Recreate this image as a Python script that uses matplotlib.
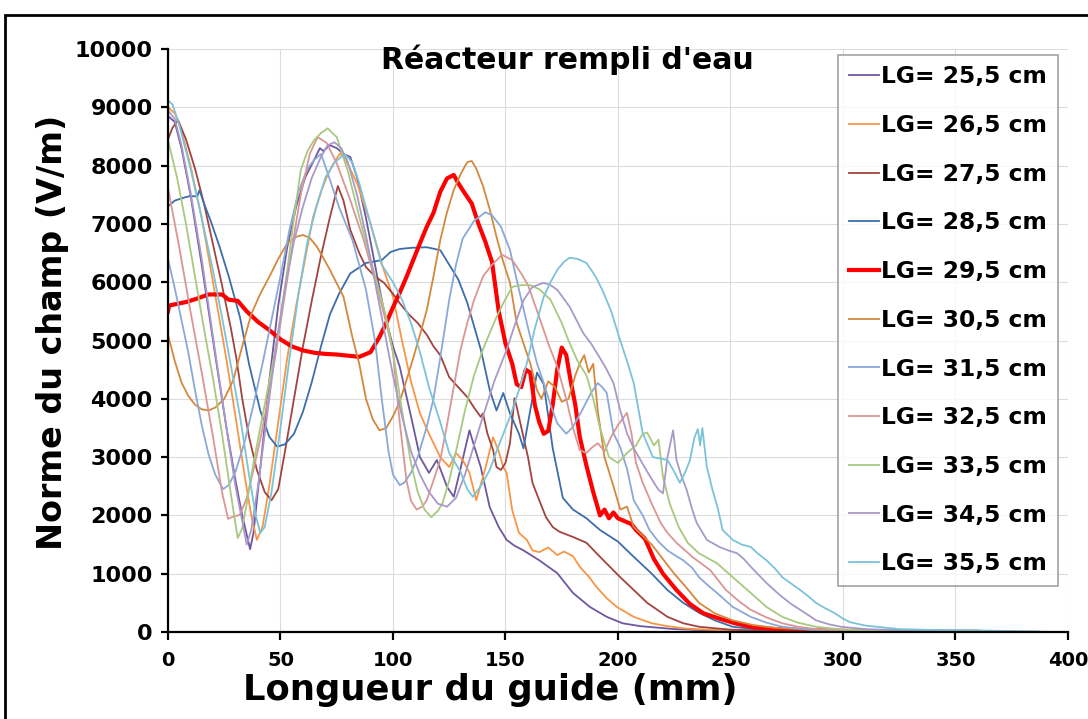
import matplotlib.pyplot as plt
from matplotlib.patches import Rectangle

plt.rcParams['font.family'] = 'DejaVu Sans'
plt.rcParams['font.weight'] = 'bold'

# Longueur du guide (mm) et norme du champ (V/m) pour chaque LG
x_255 = [0, 3, 6, 10, 15, 21, 26, 30, 33, 36.5, 38, 41, 45, 49, 53, 57, 61, 65, 67.5, 69,
         72, 75, 78, 81, 84, 88, 92, 96, 100, 103, 108, 112, 116, 119.5, 122, 124, 127, 130, 134, 136,
         139, 143, 147, 150.5, 154, 158, 165, 173, 180, 187.5, 195, 202, 210, 225, 250, 280, 320, 360]
y_255 = [8850, 8750, 8300, 7500, 6300, 4750, 3500, 2600, 2000, 1420, 1700, 2800, 4300, 5600, 6600, 7300, 7800, 8100, 8300, 8250,
         8350, 8300, 8200, 8150, 7800, 7100, 6300, 5500, 4900, 4550, 3700, 3000, 2730, 2950, 2700, 2490, 2320, 2800, 3460, 3200,
         2830, 2140, 1800, 1580, 1480, 1400, 1230, 1010, 670, 430, 260, 150, 100, 50, 15, 5, 2, 1]

x_265 = [0, 3, 6, 10, 15, 20, 26, 30, 34, 37, 39.5, 42, 45, 49, 53, 57, 60, 64.5, 68, 70.5,
         73, 76.5, 79, 84, 90, 95.5, 100, 104, 108, 112, 116, 121, 125, 128, 131, 134, 137, 141, 144.5, 147,
         149, 150.5, 153, 156, 159.5, 162, 165, 169, 173, 176, 180, 183, 187, 190.5, 195, 199.5, 207, 215, 222, 230,
         250, 280, 320]
y_265 = [9000, 8900, 8600, 8000, 7100, 6000, 4670, 3700, 2700, 2000, 1580, 1800, 2500, 3600, 4700, 5600, 6210, 7120, 7550, 7800,
         8000, 8210, 8100, 7700, 7010, 6260, 5750, 5000, 4300, 3750, 3400, 3000, 2830, 3070, 2950, 2730, 2260, 2800, 3340, 3100,
         2830, 2730, 2090, 1700, 1580, 1400, 1370, 1450, 1320, 1380, 1300, 1120, 950, 770, 580, 430, 260, 150, 100, 60,
         20, 8, 3]

x_275 = [0, 2, 4.5, 8, 12, 16, 20, 24, 28, 30.5, 33, 36, 39.5, 43, 46, 49, 52, 56, 60, 64,
         68, 72, 75.5, 78, 81, 85, 88, 92, 96, 100, 103, 107, 111, 115, 118, 121, 125, 129, 133, 136,
         139, 140, 142, 144.5, 146, 148, 150, 152, 154, 155, 158, 160, 162, 165, 168, 171, 174, 180, 186, 192,
         201, 207, 213, 222, 229, 236, 250, 270, 300]
y_275 = [8450, 8650, 8780, 8450, 7950, 7350, 6650, 5950, 5200, 4670, 4000, 3350, 2780, 2400, 2260, 2450, 3100, 4000, 4900, 5700,
         6450, 7120, 7650, 7400, 6900, 6500, 6260, 6100, 5990, 5800, 5640, 5450, 5300, 5100, 4900, 4750, 4370, 4200, 4030, 3850,
         3690, 3750, 3400, 3120, 2830, 2780, 2900, 3240, 4010, 3860, 3340, 3000, 2560, 2260, 1970, 1800, 1720, 1630, 1530, 1290,
         940, 720, 500, 260, 150, 90, 40, 15, 5]

x_285 = [0, 3, 7, 10, 13, 14, 16, 19, 23, 27, 32, 36, 41, 45, 48.5, 52, 56, 60, 64, 68,
         72, 76, 81, 88, 95, 99, 103, 108, 115, 121, 125, 129, 133, 136, 139, 141, 143, 146, 149, 152,
         156, 158, 161, 164, 167, 171, 175.5, 180, 186, 192, 200, 207, 215, 222, 229, 236, 243, 251, 260, 270,
         285, 300, 330]
y_285 = [7300, 7400, 7450, 7480, 7470, 7580, 7350, 7050, 6600, 6100, 5400, 4600, 3800, 3350, 3180, 3220, 3400, 3780, 4300, 4900,
         5450, 5800, 6150, 6330, 6380, 6520, 6570, 6590, 6600, 6550, 6300, 6050, 5650, 5250, 4850, 4500, 4150, 3800, 4100, 3750,
         3400, 3150, 3800, 4450, 4250, 3150, 2300, 2100, 1950, 1750, 1550, 1290, 1000, 720, 500, 330, 200, 90, 50, 30,
         15, 8, 3]

x_295 = [0, 0.5, 3, 8, 13, 18, 24, 27, 31, 35, 40, 45, 50, 55, 60, 65, 70, 75, 80, 85,
         90, 94, 97, 100, 103, 106, 109, 112, 115, 118, 121, 124, 127, 129, 132, 135, 138, 141, 144, 147,
         150, 153, 155, 157, 159, 161, 163, 165, 167, 169, 171, 173, 175, 177, 179, 181, 183,
         186, 189, 192, 194, 196, 198, 200, 203, 206, 208, 212, 216, 220, 226, 232, 238, 245, 252, 260, 270,
         285, 300, 320, 340, 360]
y_295 = [5500, 5600, 5620, 5660, 5720, 5790, 5790, 5700, 5680, 5500, 5320, 5180, 5020, 4900, 4830, 4790, 4770, 4760, 4740, 4720,
         4800, 5060, 5300, 5570, 5820, 6090, 6380, 6670, 6950, 7190, 7550, 7780, 7840, 7700, 7520, 7350, 7000, 6700, 6350, 5500,
         4950, 4600, 4250, 4200, 4500, 4450, 3900, 3600, 3400, 3450, 3900, 4500, 4880, 4750, 4300, 3900, 3350,
         2850, 2400, 2000, 2100, 1950, 2050, 1950, 1900, 1850, 1750, 1600, 1250, 1000, 720, 480, 320, 230, 150, 80, 50,
         30, 20, 10, 5, 3]

x_305 = [0, 3, 6, 9, 12, 15, 18, 21, 25, 29, 33, 37, 41, 45, 49, 53, 57, 60, 63, 66,
         69, 72, 75, 78, 82, 85, 88, 91, 94, 97, 100, 103, 106, 109, 112, 115, 118, 121, 124, 127,
         130, 133, 135, 137, 140, 143, 146, 149, 152, 155, 158, 161, 164, 166, 169, 172, 175, 178, 181, 183,
         185, 187, 189, 191, 194, 198, 201, 204, 207, 211, 215, 220, 225, 230, 236, 243, 251, 260, 270, 285,
         300, 330]
y_305 = [5100, 4650, 4280, 4050, 3900, 3820, 3800, 3850, 4000, 4320, 4900, 5450, 5800, 6090, 6400, 6670, 6780, 6810, 6760, 6620,
         6420, 6210, 5980, 5750, 5050, 4600, 4000, 3650, 3460, 3500, 3700, 3950, 4320, 4700, 5100, 5520, 6100, 6720, 7200, 7580,
         7850, 8060, 8080, 7950, 7650, 7250, 6780, 6350, 5990, 5300, 4950, 4610, 4150, 4000, 4300, 4200, 3950, 4000, 4400, 4600,
         4750, 4450, 4600, 3800, 3000, 2500, 2100, 2150, 1800, 1650, 1500, 1250, 1000, 780, 500, 320, 200, 120, 70, 40,
         25, 10]

x_315 = [0, 3, 6, 9, 12, 15, 18, 21, 24.5, 27, 30, 34, 38, 42, 46, 50, 54, 58, 62, 65,
         68, 71, 76, 82, 88, 92, 95, 98, 100, 103, 105, 108, 111, 115, 118, 121, 125, 128, 131, 136,
         141, 144, 148, 152, 156, 161, 164, 167, 170, 173, 177, 180, 184, 188, 191, 193, 195, 198, 201, 204,
         207, 211, 214, 218, 222, 226, 229, 233, 236, 240, 244, 251, 259, 266, 273, 285, 300, 330]
y_315 = [6400, 5900, 5350, 4800, 4150, 3550, 3050, 2700, 2450, 2520, 2750, 3250, 3900, 4600, 5350, 6100, 6900, 7550, 7950, 8100,
         8200, 7870, 7290, 6720, 5870, 5000, 4000, 3100, 2700, 2520, 2560, 2730, 3000, 3520, 4000, 4700, 5700, 6300, 6750, 7050,
         7200, 7150, 6950, 6550, 5870, 5060, 4610, 4270, 3900, 3580, 3400, 3520, 3800, 4100, 4270, 4200, 4100, 3410, 3170, 2800,
         2260, 2000, 1750, 1550, 1400, 1300, 1230, 1100, 940, 800, 670, 430, 260, 160, 90, 40, 20, 8]

x_325 = [0, 5, 10, 15, 20, 24, 26.7, 29, 32, 35, 38, 41, 44, 48, 52, 56, 59, 63, 66.5, 70.5,
         75, 81, 87, 93, 97, 100, 103, 106, 108, 110.5, 113, 115, 118, 121, 124, 127, 130, 133, 136, 140,
         144, 148.5, 153, 157, 160, 165, 169, 173, 177, 180, 183, 186, 188, 191, 194, 197, 200, 204, 206, 208,
         211, 215, 219, 222, 226, 233, 241, 248, 254, 259, 266, 273, 280, 288, 300, 330]
y_325 = [7620, 6600, 5500, 4450, 3350, 2400, 1940, 1980, 2010, 2300, 2780, 3300, 3900, 4800, 5800, 6800, 7500, 8200, 8490, 8390,
         8040, 7410, 6720, 5900, 5300, 4800, 3600, 2600, 2250, 2100, 2150, 2260, 2600, 2950, 3550, 4200, 4840, 5300, 5690, 6100,
         6300, 6470, 6380, 6150, 5950, 5400, 4950, 4550, 4000, 3500, 3120, 3070, 3150, 3240, 3100, 3350, 3550, 3760, 3400, 2900,
         2560, 2200, 1870, 1700, 1530, 1290, 1060, 720, 520, 380, 250, 150, 90, 50, 25, 8]

x_335 = [0, 4, 8, 12, 16, 20, 24, 28, 31, 33, 35, 38, 41, 44, 47, 50, 53, 56, 59, 62,
         65, 68, 71, 73, 75, 77, 80, 85, 91, 97, 100, 104, 108, 111, 114, 117, 120, 122, 125, 128,
         132, 136, 140, 143, 146, 149, 153, 157, 161, 165, 170, 175, 178, 182, 186, 189, 192, 196, 200, 204,
         208, 211, 213, 216, 218, 220, 223, 227, 231, 236, 244, 251, 259, 266, 273, 280, 288, 300, 330, 360]
y_335 = [8440, 7800, 7000, 6100, 5200, 4350, 3400, 2350, 1610, 1780, 2200, 2900, 3500, 4100, 4700, 5400, 6200, 7100, 7920, 8250,
         8440, 8560, 8640, 8560, 8490, 8250, 7900, 7120, 6260, 5400, 4800, 3800, 2900, 2400, 2100, 1970, 2080, 2210, 2600, 3100,
         3800, 4400, 4850, 5130, 5400, 5640, 5920, 5950, 5950, 5880, 5700, 5300, 5000, 4650, 4400, 4000, 3500, 3000, 2900, 3070,
         3200, 3400, 3420, 3200, 3300, 2660, 2200, 1800, 1530, 1350, 1180, 940, 670, 430, 260, 160, 90, 40, 10, 3]

x_345 = [0, 3, 6, 10, 15, 21, 26, 30, 33, 35, 37, 40, 44, 48, 52, 56, 60, 64, 68, 71,
         74, 77, 80, 84, 88, 92, 96, 100, 104, 108, 112, 116, 120, 124, 128, 132, 136, 140, 145, 150.5,
         154, 158, 162, 167, 170, 173, 178.5, 184.5, 188, 192, 195, 198, 201, 204, 207, 210, 213, 216, 218, 220,
         222, 224.5, 226, 228, 230.5, 233, 235, 239.5, 245, 249, 253, 256, 259, 262, 266, 270, 273, 277, 281, 285,
         288, 294, 299, 310, 330, 350, 370, 390]
y_345 = [8950, 8800, 8350, 7550, 6400, 4800, 3500, 2500, 1900, 1500, 1750, 2500, 3700, 4900, 5900, 6700, 7300, 7800, 8150, 8350,
         8400, 8300, 8050, 7500, 6800, 6000, 5200, 4400, 3700, 3100, 2700, 2400, 2200, 2150, 2300, 2700, 3200, 3700, 4300, 4840,
         5250, 5690, 5920, 5990, 5950, 5870, 5580, 5130, 4950, 4700, 4500, 4270, 3800, 3410, 3150, 2950, 2750, 2560, 2440, 2380,
         3000, 3460, 2950, 2700, 2440, 2100, 1870, 1580, 1460, 1400, 1350, 1250, 1120, 1000, 840, 700, 600, 480, 380, 280,
         200, 130, 90, 50, 25, 15, 8, 3]

x_355 = [0, 2, 5, 10, 15, 20, 24, 27.5, 32, 36, 39, 41, 43, 46, 50, 54, 58, 62, 66, 70,
         74, 77, 79, 82, 85, 90, 95, 100, 104, 108, 112, 116, 121, 125, 130, 133, 135.5, 139, 143, 147,
         152, 156, 159.5, 163, 167, 170, 173, 176, 178.5, 182, 186, 190, 193, 197, 201, 204, 207, 211, 215.5, 218,
         222, 225, 227.5, 230, 232, 234, 235.5, 236.5, 237.5, 239.5, 242, 244.5, 246.5, 251, 255, 259, 262, 266, 270, 273,
         277, 281, 285, 288, 292, 296, 300, 303, 310, 325, 340, 355, 370, 387]
y_355 = [9120, 9050, 8700, 7950, 7100, 6200, 5400, 4670, 3700, 2700, 2000, 1700, 1800, 2400, 3500, 4700, 5800, 6700, 7300, 7800,
         8050, 8150, 8180, 8050, 7700, 7000, 6300, 6000, 5700, 5300, 4800, 4200, 3600, 3070, 2750, 2450, 2320, 2500, 2780, 3200,
         3690, 4150, 4610, 5200, 5750, 6000, 6210, 6350, 6420, 6400, 6330, 6100, 5870, 5500, 5000, 4650, 4270, 3410, 3000, 2980,
         2950, 2750, 2560, 2750, 2950, 3340, 3480, 3200, 3500, 2830, 2440, 2100, 1750, 1580, 1500, 1460, 1350, 1230, 1080, 940,
         830, 720, 600, 500, 410, 330, 230, 170, 110, 50, 35, 30, 20, 10]

series = [(x_255, y_255), (x_265, y_265), (x_275, y_275), (x_285, y_285), (x_295, y_295), (x_305, y_305),
          (x_315, y_315), (x_325, y_325), (x_335, y_335), (x_345, y_345), (x_355, y_355)]
labels = ["LG= 25,5 cm", "LG= 26,5 cm", "LG= 27,5 cm", "LG= 28,5 cm", "LG= 29,5 cm", "LG= 30,5 cm",
          "LG= 31,5 cm", "LG= 32,5 cm", "LG= 33,5 cm", "LG= 34,5 cm", "LG= 35,5 cm"]
colors = ["#6f57a0", "#f79646", "#a3433f", "#3d6dab", "#ff0000", "#d4883c",
          "#8aa8d8", "#d99694", "#a8c97f", "#a899c8", "#7cc2d8"]
widths = [1.3, 1.3, 1.3, 1.3, 3.0, 1.3, 1.3, 1.3, 1.3, 1.3, 1.3]

fig = plt.figure(figsize=(10.88, 7.19), dpi=100)
ax = fig.add_axes([0.1544, 0.121, 0.8272, 0.8108])

for (xs, ys), lab, col, lw in zip(series, labels, colors, widths):
    ax.plot(xs, ys, color=col, lw=lw, label=lab)

ax.set_xlim(0, 400)
ax.set_ylim(0, 10000)
ax.set_xticks(range(0, 401, 50))
ax.set_yticks(range(0, 10001, 1000))
ax.grid(True, color="#dcdcdc", lw=0.8)
ax.set_axisbelow(True)
for side in ["top", "right"]:
    ax.spines[side].set_visible(False)
for side in ["left", "bottom"]:
    ax.spines[side].set_linewidth(1.6)
ax.tick_params(axis="x", direction="out", length=6, width=1.6, labelsize=14, pad=8)
ax.tick_params(axis="y", direction="out", length=5, width=1.6, labelsize=16, pad=6)

leg = ax.legend(loc="upper left", bbox_to_anchor=(838 / 1088, 1 - 55 / 719),
                bbox_transform=fig.transFigure, fontsize=16.8, frameon=True, fancybox=False,
                borderpad=0.45, handlelength=1.3, handletextpad=0.1, labelspacing=1.1,
                borderaxespad=0)
leg.get_frame().set_edgecolor("#8c8c8c")
leg.get_frame().set_linewidth(1.2)

fig.text(567 / 1088, 1 - 60 / 719, "Réacteur rempli d'eau", ha="center", va="center", fontsize=21.5)
fig.text(490 / 1088, 1 - 690 / 719, "Longueur du guide (mm)", ha="center", va="center", fontsize=25.5)
fig.text(53 / 1088, 1 - 332 / 719, "Norme du champ (V/m)", ha="center", va="center",
         rotation=90, fontsize=24)

# cadre noir autour du graphique
fig.patches.append(Rectangle((5 / 1088, -0.1), 1.2, 1 - 15 / 719 + 0.1, transform=fig.transFigure,
                             fill=False, edgecolor="black", lw=2.0))

fig.savefig("out.png", dpi=100)
